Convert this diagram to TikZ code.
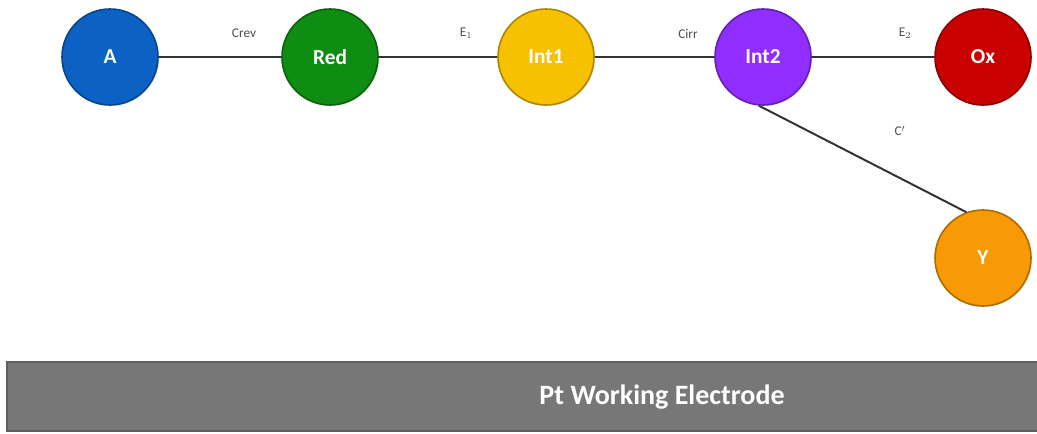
\documentclass[tikz,border=0pt]{standalone}
\usepackage{fontspec}
\setmainfont{Carlito}
\usetikzlibrary{shadows}
\definecolor{cA}{HTML}{0B62C4}
\definecolor{cRed}{HTML}{0F8C12}
\definecolor{cInt1}{HTML}{F7C100}
\definecolor{cInt2}{HTML}{8F2EFF}
\definecolor{cOx}{HTML}{C80000}
\definecolor{cY}{HTML}{F79A05}
\definecolor{elec}{HTML}{777777}
\begin{document}
\begin{tikzpicture}[x=0.75pt,y=-0.75pt,
  species/.style={circle, minimum size=72pt, inner sep=0pt, line width=1.2pt,
    font=\fontsize{16}{18}\selectfont\bfseries, text=white,
    drop shadow={shadow xshift=1pt, shadow yshift=-1pt, opacity=0.15}},
  link/.style={line width=1.5pt, draw=black!80},
  lbl/.style={font=\fontsize{10}{12}\selectfont, text=black!70}]
\useasboundingbox (0,0) rectangle (1037,433);
\draw[link] (110,57) coordinate (a0) -- (983,57);
\node[species, fill=cA, draw=cA!70!black] (A) at (110,57) {A};
\node[species, fill=cRed, draw=cRed!70!black] (Red) at (330,57) {Red};
\node[species, fill=cInt1, draw=cInt1!70!black] (Int1) at (546,57) {Int1};
\node[species, fill=cInt2, draw=cInt2!70!black] (Int2) at (763,57) {Int2};
\node[species, fill=cOx, draw=cOx!70!black] (Ox) at (983,57) {Ox};
\node[species, fill=cY, draw=cY!70!black] (Y) at (983,258) {Y};
\draw[link] (Int2.-95) -- (Y.110);
\node[lbl] (l1) at (244,33) {Crev};
\node[lbl] (l2) at (466,33) {E$_1$};
\node[lbl] (l3) at (688,34) {Cirr};
\node[lbl] (l4) at (905,33) {E$_2$};
\node[lbl] (l5) at (900,131) {C$'$};
\node[draw=elec!80!black, fill=elec, line width=1.5pt, minimum width=1040\pgflinewidth, anchor=north west,
  minimum height=52pt, inner sep=0pt] (E) at (6,361) {};
\node[font=\fontsize{21}{24}\selectfont\bfseries, text=white] (Et) at (662,397) {Pt Working Electrode};
\end{tikzpicture}
\end{document}
